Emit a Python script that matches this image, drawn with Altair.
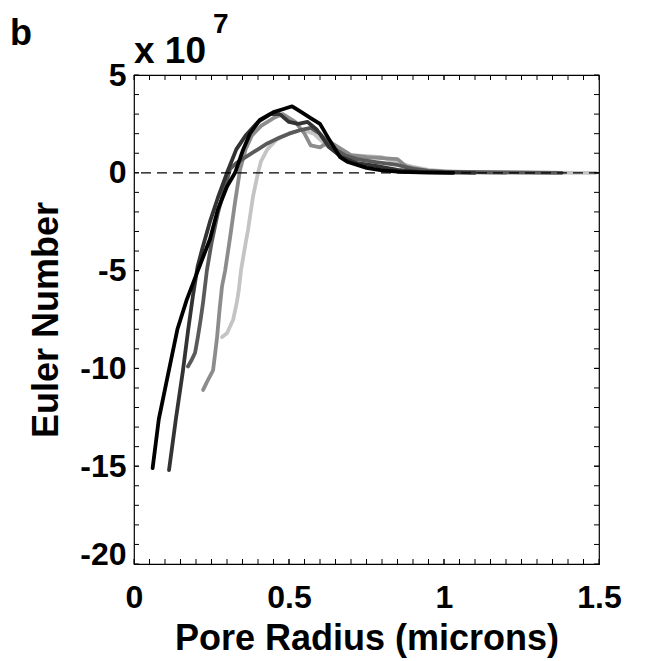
import altair as alt
import pandas as pd

# ---- data (x: pore radius in microns, y: Euler number in units of 1e7)
a_x = [0.06, 0.08, 0.106, 0.14, 0.17, 0.206, 0.245, 0.27, 0.30, 0.326, 0.35, 0.374, 0.406, 0.45, 0.48, 0.51, 0.54, 0.57, 0.60, 0.626, 0.665, 0.69, 0.75, 0.80, 0.86, 0.95, 1.03]
a_y = [-15.1, -12.6, -10.6, -8.0, -6.5, -5.0, -3.4, -1.9, -0.7, 0.0, 1.1, 2.0, 2.7, 3.1, 3.25, 3.4, 3.1, 2.8, 2.5, 1.8, 0.8, 0.55, 0.25, 0.12, 0.05, 0.01, 0.0]

b_x = [0.113, 0.135, 0.158, 0.175, 0.19, 0.205, 0.22, 0.245, 0.27, 0.30, 0.33, 0.36, 0.40, 0.44, 0.47, 0.50, 0.53, 0.56, 0.59, 0.63, 0.67, 0.72, 0.78, 0.85, 0.92, 1.0, 1.1]
b_y = [-15.2, -12.6, -10.1, -8.0, -6.3, -4.8, -3.9, -2.5, -1.3, 0.0, 1.2, 1.9, 2.6, 3.0, 3.0, 2.6, 2.5, 2.6, 2.2, 1.3, 0.8, 0.5, 0.35, 0.15, 0.05, 0.02, 0.0]

c_x = [0.174, 0.185, 0.197, 0.206, 0.215, 0.223, 0.235, 0.25, 0.27, 0.29, 0.31, 0.33, 0.36, 0.40, 0.43, 0.47, 0.50, 0.54, 0.57, 0.60, 0.64, 0.68, 0.72, 0.78, 0.85, 0.90, 0.95, 1.0, 1.2, 1.38]
c_y = [-9.9, -9.6, -9.2, -8.4, -7.5, -6.6, -5.0, -3.6, -2.1, -0.9, 0.2, 0.5, 0.8, 1.2, 1.5, 1.8, 2.0, 2.2, 2.3, 2.0, 1.3, 0.9, 0.7, 0.55, 0.4, 0.2, 0.1, 0.05, 0.02, 0.0]

d_x = [0.223, 0.235, 0.255, 0.262, 0.268, 0.276, 0.284, 0.294, 0.31, 0.326, 0.342, 0.36, 0.38, 0.41, 0.45, 0.48, 0.52, 0.55, 0.57, 0.60, 0.63, 0.66, 0.70, 0.75, 0.80, 0.85, 0.88, 0.95, 1.05, 1.2]
d_y = [-11.1, -10.7, -10.1, -9.2, -8.4, -7.0, -5.8, -5.0, -3.3, -1.5, 0.15, 1.2, 1.9, 2.4, 2.8, 3.0, 2.6, 2.0, 1.4, 1.3, 1.6, 1.3, 0.9, 0.8, 0.75, 0.7, 0.3, 0.1, 0.03, 0.0]

e_x = [0.284, 0.30, 0.32, 0.332, 0.338, 0.345, 0.36, 0.368, 0.384, 0.40, 0.41, 0.43, 0.46, 0.50, 0.54, 0.58, 0.62, 0.66, 0.70, 0.75, 0.80, 0.85, 0.90, 0.95, 1.0, 1.1, 1.3, 1.49]
e_y = [-8.4, -8.2, -7.5, -6.6, -6.0, -5.0, -3.6, -2.9, -1.2, 0.0, 0.6, 1.2, 1.7, 2.0, 2.2, 2.0, 1.4, 1.0, 0.9, 0.85, 0.8, 0.5, 0.3, 0.15, 0.08, 0.03, 0.01, 0.0]

series_x = [e_x, d_x, c_x, b_x, a_x]          # drawing order: lightest first, black last
series_y = [e_y, d_y, c_y, b_y, a_y]
series_colors = ["#c4c4c4", "#8c8c8c", "#5a5a5a", "#333333", "#000000"]

x_tick_labels = [0, 0.5, 1, 1.5]
y_tick_labels = [-20, -15, -10, -5, 0, 5]
x_minor = [round(i * 0.05, 2) for i in range(1, 30)]
y_minor = list(range(-19, 5))

panel_label = ["b"]
exp_base = ["x 10"]
exp_power = ["7"]
x_title = "Pore Radius (microns)"
y_title = "Euler Number"

W, H = 465, 489
FONT = "Liberation Sans"
FS = 32
TFS = 36

xs = alt.Scale(domain=[0, 1.5], nice=False, zero=False)
ys = alt.Scale(domain=[-20, 5], nice=False, zero=False)

xaxis = alt.Axis(values=x_tick_labels, labelExpr="datum.value + ''", ticks=False, domain=False, grid=False,
                 labelFont=FONT, labelFontSize=FS, labelFontWeight="bold", labelColor="#000",
                 labelPadding=18, title=x_title, titleFont=FONT, titleFontSize=TFS, titleFontWeight="bold",
                 titleColor="#000", titlePadding=8, labelFlush=False)
yaxis = alt.Axis(values=y_tick_labels, labelExpr="datum.value + ''", ticks=False, domain=False, grid=False,
                 labelFont=FONT, labelFontSize=FS, labelFontWeight="bold", labelColor="#000",
                 labelPadding=8, title=y_title, titleFont=FONT, titleFontSize=TFS, titleFontWeight="bold",
                 titleColor="#000", titlePadding=14, labelFlush=False,
                 labelOffset={"condition": {"test": "datum.value === -20", "value": -10}, "value": 0})

X = lambda f: alt.X(f, scale=xs, axis=xaxis)
Y = lambda f: alt.Y(f, scale=ys, axis=yaxis)

layers = []
for sx, sy, col in zip(series_x, series_y, series_colors):
    df = pd.DataFrame({"x": sx, "y": sy})
    layers.append(
        alt.Chart(df).mark_line(color=col, strokeWidth=3.8, strokeJoin="round", strokeCap="round", clip=True).encode(
            x=X("x:Q"), y=Y("y:Q"),
        )
    )

zero_df = pd.DataFrame({"y": [0]})
zero_line = alt.Chart(zero_df).mark_rule(color="#000", strokeWidth=1.2, strokeDash=[10, 6]).encode(
    y=Y("y:Q")
)

xm = pd.DataFrame({"x": x_minor + x_tick_labels})
ym = pd.DataFrame({"y": y_minor + y_tick_labels})
TL = 5
tick_bottom = alt.Chart(xm).mark_rule(color="#000", strokeWidth=1).encode(
    x=X("x:Q"), y=alt.value(H), y2=alt.value(H - TL))
tick_top = alt.Chart(xm).mark_rule(color="#000", strokeWidth=1).encode(
    x=X("x:Q"), y=alt.value(0), y2=alt.value(TL))
tick_left = alt.Chart(ym).mark_rule(color="#000", strokeWidth=1).encode(
    y=Y("y:Q"), x=alt.value(0), x2=alt.value(TL))
tick_right = alt.Chart(ym).mark_rule(color="#000", strokeWidth=1).encode(
    y=Y("y:Q"), x=alt.value(W), x2=alt.value(W - TL))

lab_b = alt.Chart(pd.DataFrame({"t": panel_label})).mark_text(
    font=FONT, fontSize=36, fontWeight="bold", align="left", baseline="alphabetic", color="#000"
).encode(text="t:N", x=alt.value(-124), y=alt.value(-30))
lab_exp = alt.Chart(pd.DataFrame({"t": exp_base})).mark_text(
    font=FONT, fontSize=37, fontWeight="bold", align="left", baseline="alphabetic", color="#000"
).encode(text="t:N", x=alt.value(0), y=alt.value(-12))
lab_pow = alt.Chart(pd.DataFrame({"t": exp_power})).mark_text(
    font=FONT, fontSize=28, fontWeight="bold", align="left", baseline="alphabetic", color="#000"
).encode(text="t:N", x=alt.value(79), y=alt.value(-42))

chart = alt.layer(
    *layers[:4], zero_line, layers[4],
    tick_bottom, tick_top, tick_left, tick_right,
    lab_b, lab_exp, lab_pow,
).properties(
    width=W, height=H,
    autosize=alt.AutoSizeParams(type="none"),
    padding={"left": 134, "top": 75, "right": 56, "bottom": 97},
    background="#ffffff",
).configure_view(stroke="#000", strokeWidth=1.2)

chart.save("out.html", embed_options={"renderer": "svg", "actions": False})
